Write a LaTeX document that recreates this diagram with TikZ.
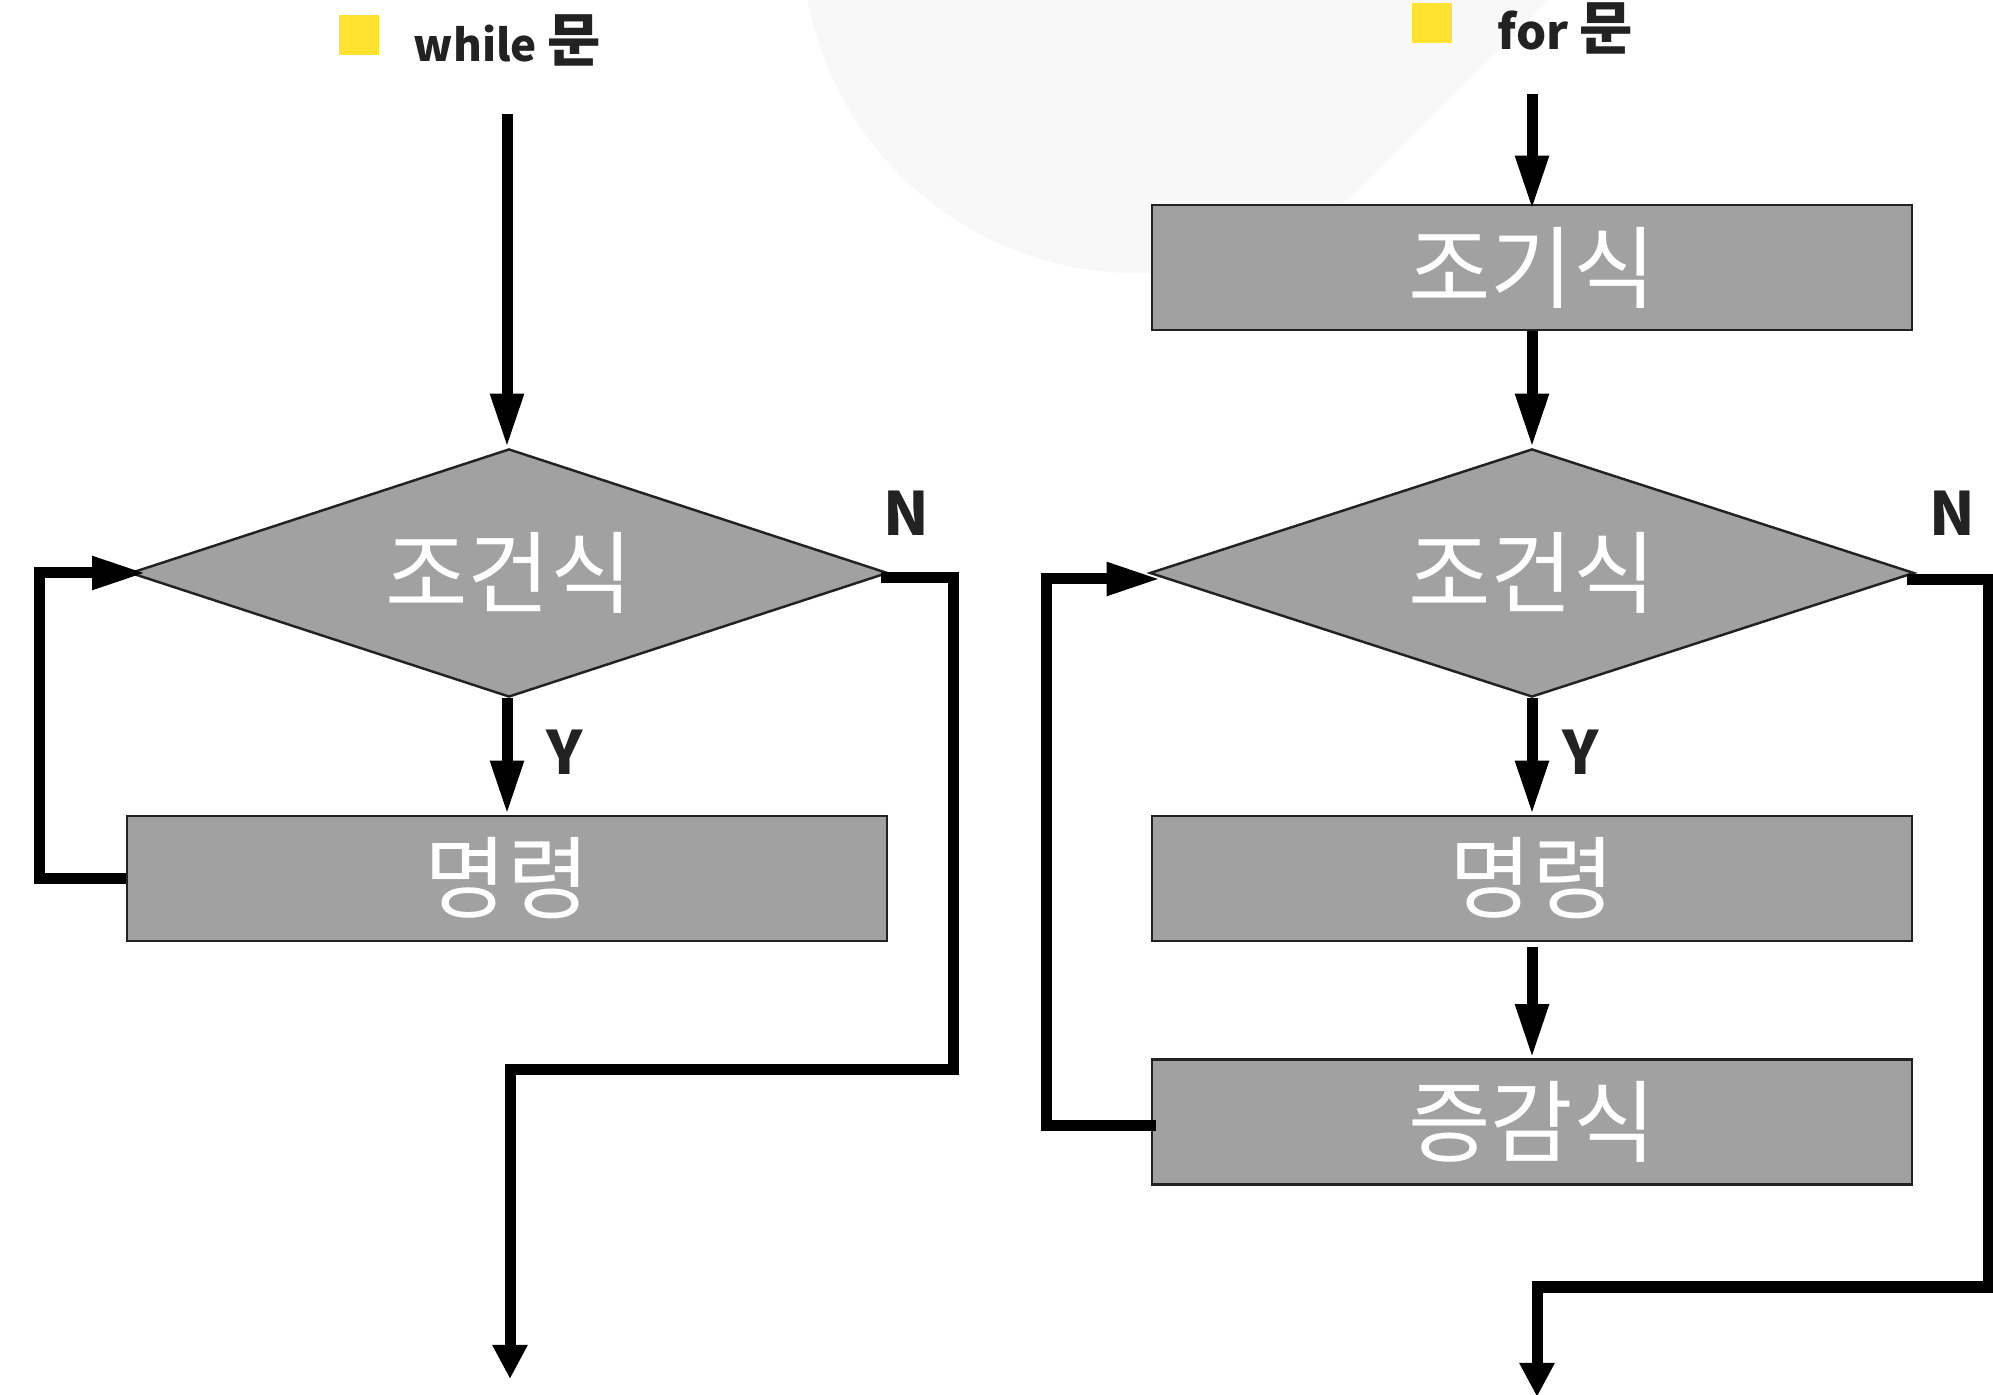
\documentclass[tikz,border=0pt]{standalone}
\usepackage{fontspec}
\newfontfamily\kr{Noto Sans CJK KR}
\usetikzlibrary{shapes.geometric,arrows.meta,calc}
\definecolor{boxgray}{HTML}{A1A1A1}
\definecolor{ink}{HTML}{222222}
\definecolor{ylw}{HTML}{FFE330}
\definecolor{bgc}{HTML}{F8F8F8}
\newcommand{\bigmun}{{\fontsize{16.5}{18}\selectfont 문}}
\begin{document}
\begin{tikzpicture}[x=0.01cm,y=-0.01cm,
  procbox/.style={draw=ink, line width=0.7pt, fill=boxgray, minimum width=7.6cm, minimum height=1.25cm, inner sep=0pt, text=white, font=\kr\fontsize{25.5}{27}\selectfont},
  decbox/.style={diamond, draw=ink, line width=0.7pt, fill=boxgray, minimum height=2.48cm, inner sep=0pt, aspect=3, text=white, font=\kr\fontsize{25.5}{27}\selectfont},
  flow/.style={line width=0.11cm, -{Triangle[length=0.54cm,width=0.31cm]}},
  flowend/.style={line width=0.11cm, -{Triangle[length=0.34cm,width=0.33cm]}},
  lbl/.style={font=\kr\bfseries\fontsize{17}{18}\selectfont, text=ink, inner sep=0pt},
  titletext/.style={font=\kr\bfseries\fontsize{12.5}{16}\selectfont, text=ink, anchor=west, inner sep=0pt},
  ylwsq/.style={fill=ylw, minimum size=0.4cm, inner sep=0pt}
]
\useasboundingbox (0,0) rectangle (1993,1395);
\clip (0,0) rectangle (1993,1395);
% background shape
\fill[bgc] (1137,-62) circle (3.35cm);
\fill[bgc] (1137,-62) -- (1374,175) -- (1700,-151) -- cycle;
% titles
\node[ylwsq] (sq1) at (359,35) {};
\node[titletext] (t1) at (413,40) {while \bigmun};
\node[ylwsq] (sq2) at (1432,23) {};
\node[titletext, font=\kr\bfseries\fontsize{13.5}{16}\selectfont] (t2) at (1497,28) {for \bigmun};
% while flowchart
\node[decbox, minimum width=7.57cm] (cond1) at (509,573) {조건식};
\node[procbox] (cmd1) at (507,878.5) {명령};
\coordinate (s1) at (507,114);
\coordinate (e1) at (510,1379);
\draw[flow] (s1) -- (s1 |- cond1.north);
\draw[flow] (cond1.south -| cmd1.north) -- (cmd1.north);
\draw[flow] (cmd1.west) -- ++(-86,0) |- ($(cond1.west)+(17,0)$);
\draw[flowend] ($(cond1.east)+(-8,5)$) -| (953,1070) -| (e1);
\node[lbl] (y1) at (565,752) {Y};
\node[lbl] (n1) at (906,513) {N};
% for flowchart
\node[procbox] (init) at (1532,267.5) {조기식};
\node[decbox, minimum width=7.64cm] (cond2) at (1532,573) {조건식};
\node[procbox] (cmd2) at (1532,878.5) {명령};
\node[procbox] (inc) at (1532,1122) {증감식};
\coordinate (s2) at (1532,94);
\coordinate (e2) at (1537,1397);
\draw[flow] (s2) -- ([yshift=-0.06cm]init.north);
\draw[flow] (init.south) -- (cond2.north);
\draw[flow] (cond2.south) -- (cmd2.north);
\draw[flow] ([yshift=-0.05cm]cmd2.south) -- (inc.north);
\draw[flow] ($(inc.west)+(5,4)$) -- ++(-109,0) |- ($(cond2.west)+(12,6)$);
\draw[flowend] ($(cond2.east)+(-8,7)$) -| (1988,1287) -| (e2);
\node[lbl] (y2) at (1581,752) {Y};
\node[lbl] (n2) at (1952,513) {N};
\end{tikzpicture}
\end{document}
